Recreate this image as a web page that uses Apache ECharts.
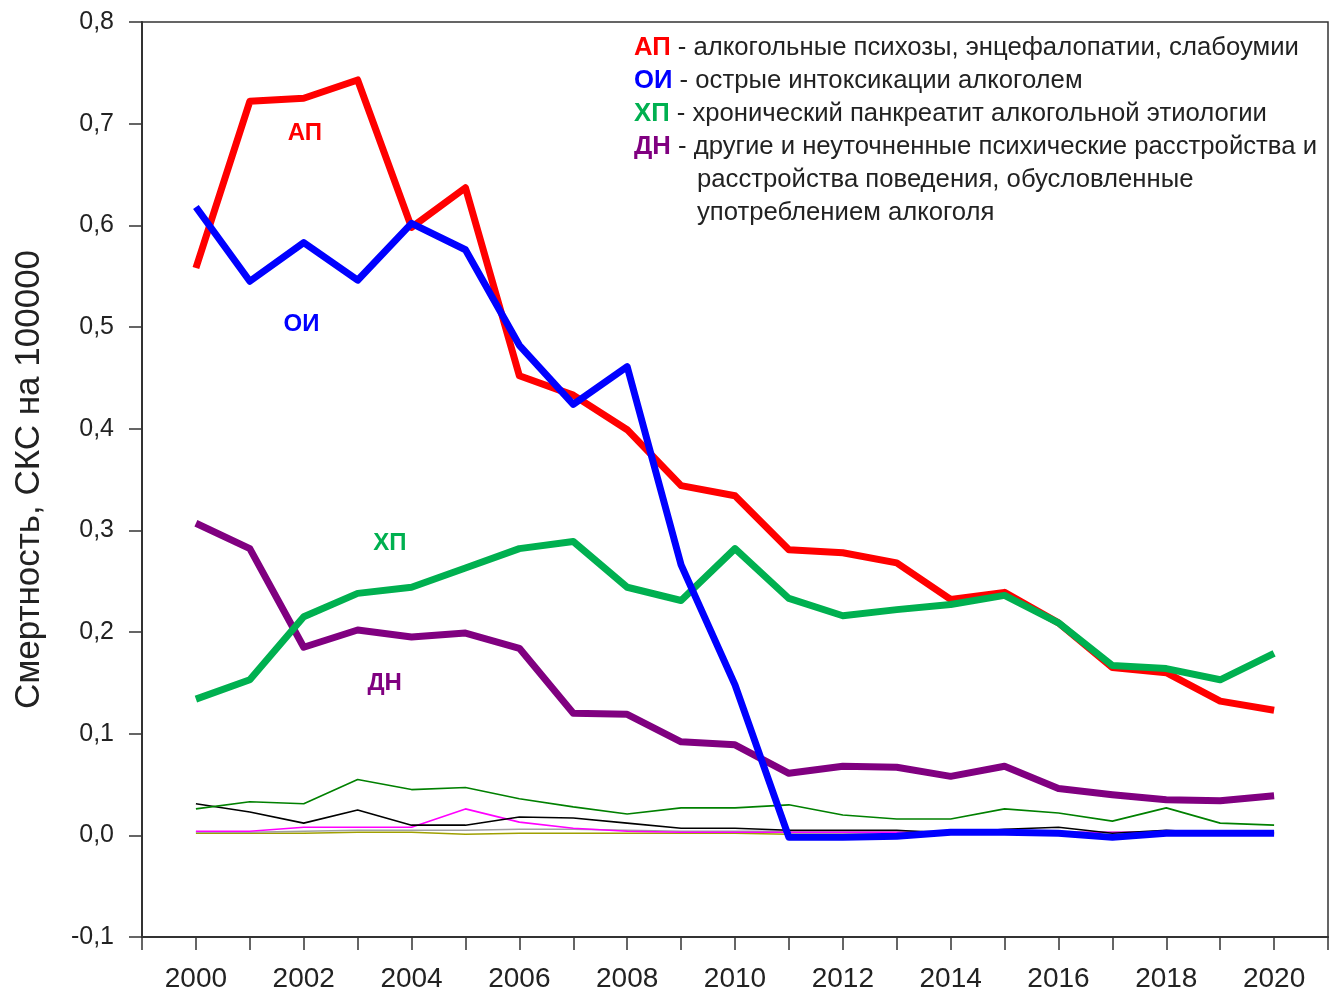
<!DOCTYPE html>
<html>
<head>
<meta charset="utf-8">
<script src="https://cdn.jsdelivr.net/npm/echarts@6/dist/echarts.min.js"></script>
<style>
  html, body { margin: 0; padding: 0; background: #fff; }
  #chart { width: 1331px; height: 996px; }
</style>
</head>
<body>
<div id="chart"></div>
<script>
// годы
const years = [2000, 2001, 2002, 2003, 2004, 2005, 2006, 2007, 2008, 2009, 2010,
  2011, 2012, 2013, 2014, 2015, 2016, 2017, 2018, 2019, 2020]

// основные ряды (жирные линии)
const apValues = [0.558, 0.722, 0.725, 0.743, 0.598, 0.637, 0.452, 0.433, 0.399, 0.344, 0.334,
  0.281, 0.278, 0.268, 0.232, 0.239, 0.209, 0.165, 0.160, 0.132, 0.123]
const oiValues = [0.618, 0.545, 0.583, 0.546, 0.602, 0.576, 0.482, 0.424, 0.461, 0.266, 0.148,
  -0.002, -0.002, -0.001, 0.003, 0.003, 0.002, -0.002, 0.002, 0.002, 0.002]
const hpValues = [0.134, 0.153, 0.215, 0.238, 0.244, 0.263, 0.282, 0.289, 0.244, 0.231, 0.282,
  0.233, 0.216, 0.222, 0.227, 0.236, 0.209, 0.167, 0.164, 0.153, 0.179]
const dnValues = [0.307, 0.282, 0.185, 0.202, 0.195, 0.199, 0.184, 0.120, 0.119, 0.092, 0.089,
  0.061, 0.068, 0.067, 0.058, 0.068, 0.046, 0.040, 0.035, 0.034, 0.039]

// прочие ряды (тонкие линии)
const darkGreenValues = [0.026, 0.033, 0.031, 0.055, 0.045, 0.047, 0.036, 0.028, 0.021, 0.027, 0.027,
  0.030, 0.020, 0.016, 0.016, 0.026, 0.022, 0.014, 0.027, 0.012, 0.010]
const blackValues = [0.031, 0.023, 0.012, 0.025, 0.010, 0.010, 0.018, 0.017, 0.012, 0.007, 0.007,
  0.005, 0.005, 0.005, 0.002, 0.006, 0.008, 0.002, 0.005, 0.002, 0.002]
const magentaValues = [0.004, 0.004, 0.008, 0.008, 0.008, 0.026, 0.013, 0.007, 0.004, 0.003, 0.003,
  0.003, 0.003, 0.003, 0.003, 0.002, 0.003, 0.003, 0.003, 0.002, 0.003]
const grayValues = [0.003, 0.003, 0.004, 0.005, 0.005, 0.005, 0.006, 0.006, 0.005, 0.004, 0.004,
  0.004, 0.004, 0.004, 0.004, 0.003, 0.003, 0.003, 0.004, 0.003, 0.003]
const oliveValues = [0.002, 0.002, 0.002, 0.003, 0.003, 0.001, 0.002, 0.002, 0.002, 0.002, 0.002,
  0.001, 0.001, 0.001, 0.001, 0.001, 0.001, 0.001, 0.001, 0.001, 0.001]

// подписи линий на графике [год, значение]
const labelAP = [2002.02, 0.690]
const labelOI = [2001.96, 0.503]
const labelHP = [2003.6, 0.287]
const labelDN = [2003.5, 0.149]

const legendLines = [
  { key: 'ap', code: 'АП', text: ' - алкогольные психозы, энцефалопатии, слабоумии' },
  { key: 'oi', code: 'ОИ', text: ' - острые интоксикации алкоголем' },
  { key: 'hp', code: 'ХП', text: ' - хронический панкреатит алкогольной этиологии' },
  { key: 'dn', code: 'ДН', text: ' - другие и неуточненные психические расстройства и' },
  { key: '', code: '', text: 'расстройства поведения, обусловленные' },
  { key: '', code: '', text: 'употреблением алкоголя' }
]

const font = '"Liberation Sans", Arial, sans-serif'
const colors = { ap: '#ff0000', oi: '#0000ff', hp: '#00b050', dn: '#800080' }

const pairs = arr => years.map((y, i) => [y, arr[i]])

function thinLine (name, data, color) {
  return {
    name: name,
    type: 'line',
    data: pairs(data),
    symbol: 'none',
    lineStyle: { color: color, width: 1.6 },
    silent: true
  }
}

function thickLine (name, data, color, labelCoord) {
  return {
    name: name,
    type: 'line',
    data: pairs(data),
    symbol: 'none',
    lineStyle: { color: color, width: 7, join: 'round' },
    markPoint: {
      symbol: 'circle',
      symbolSize: 2,
      itemStyle: { color: 'rgba(0,0,0,0)' },
      data: [{ coord: labelCoord, value: name }],
      label: {
        show: true,
        position: 'inside',
        formatter: name,
        color: color,
        fontFamily: font,
        fontWeight: 'bold',
        fontSize: 24
      }
    }
  }
}

const chart = echarts.init(document.getElementById('chart'))

const legendGraphic = legendLines.map((l, i) => ({
  type: 'text',
  x: l.code ? 634 : 697,
  y: 48 + i * 33,
  style: {
    text: l.code ? '{c|' + l.code + '}{t|' + l.text + '}' : '{t|' + l.text + '}',
    verticalAlign: 'middle',
    rich: {
      c: { fill: colors[l.key] || '#222', fontFamily: font, fontSize: 25.7, fontWeight: 'bold' },
      t: { fill: '#222', fontFamily: font, fontSize: 25.7 }
    }
  }
}))

chart.setOption({
  animation: false,
  backgroundColor: '#fff',
  grid: {
    left: 142,
    top: 22,
    right: 2,
    bottom: 59,
    show: true,
    borderColor: '#333',
    borderWidth: 1.5
  },
  xAxis: {
    type: 'value',
    min: 1999,
    max: 2021,
    interval: 1,
    splitLine: { show: false },
    axisLine: { onZero: false, lineStyle: { color: '#333', width: 2 } },
    axisTick: { length: 13, lineStyle: { color: '#333', width: 1.5 } },
    axisLabel: {
      margin: 28,
      color: '#222',
      fontFamily: font,
      fontSize: 28,
      formatter: v => (v % 2 === 0 && v >= 2000 && v <= 2020) ? String(v) : ''
    }
  },
  yAxis: {
    type: 'value',
    min: -0.1,
    max: 0.8,
    interval: 0.1,
    name: 'Смертность, СКС на 100000',
    nameLocation: 'middle',
    nameGap: 95,
    nameTextStyle: { color: '#222', fontFamily: font, fontSize: 35 },
    splitLine: { show: false },
    axisLine: { lineStyle: { color: '#333', width: 2 } },
    axisTick: { length: 13, lineStyle: { color: '#333', width: 1.5 } },
    axisLabel: {
      margin: 28,
      color: '#222',
      fontFamily: font,
      fontSize: 25,
      formatter: v => v.toFixed(1).replace('.', ',')
    }
  },
  graphic: legendGraphic,
  series: [
    thinLine('olive', oliveValues, '#a0a000'),
    thinLine('gray', grayValues, '#a0a0a0'),
    thinLine('magenta', magentaValues, '#ff00ff'),
    thinLine('black', blackValues, '#000000'),
    thinLine('darkgreen', darkGreenValues, '#008000'),
    thickLine('ДН', dnValues, colors.dn, labelDN),
    thickLine('АП', apValues, colors.ap, labelAP),
    thickLine('ХП', hpValues, colors.hp, labelHP),
    thickLine('ОИ', oiValues, colors.oi, labelOI)
  ]
})
</script>
</body>
</html>
